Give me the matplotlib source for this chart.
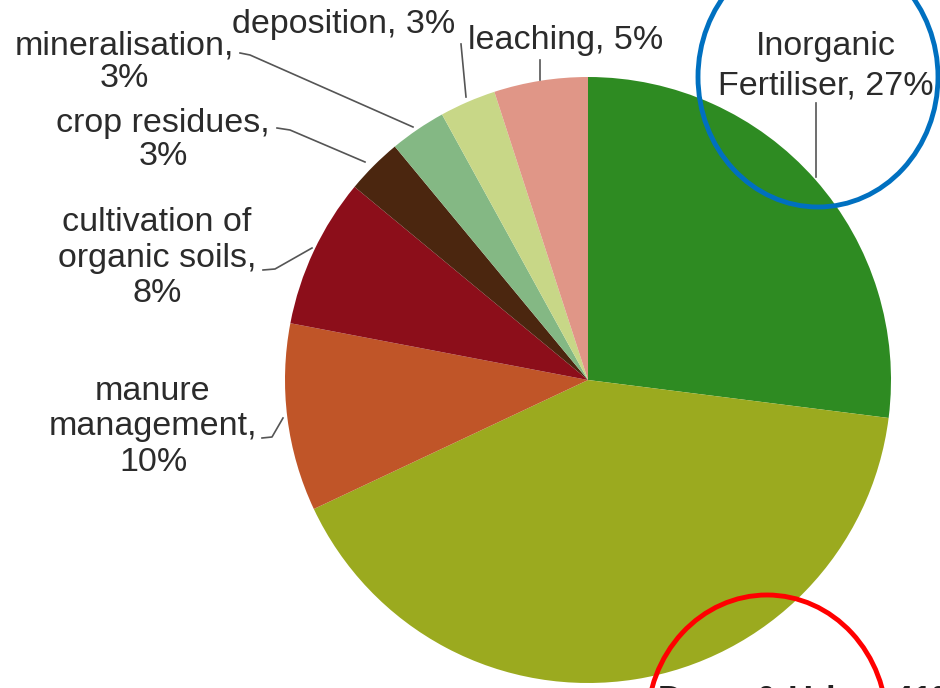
import matplotlib
matplotlib.use("Agg")
import matplotlib.pyplot as plt
from matplotlib.patches import Ellipse

labels = ["Inorganic\nFertiliser, 27%", "Dung & Urine, 41%", "manure\nmanagement,\n10%",
          "cultivation of\norganic soils,\n8%", "crop residues,\n3%", "mineralisation,\n3%",
          "deposition, 3%", "leaching, 5%"]
values = [27, 41, 10, 8, 3, 3, 3, 5]
colors = ["#2e8b22", "#9baa1f", "#c05528", "#8c0e1a", "#4b260f", "#84b884", "#c8d787", "#e09687"]

W, H = 940, 688
def Y(y):
    return H - y

fig = plt.figure(figsize=(9.4, 6.88), dpi=100)
ax = fig.add_axes([0, 0, 1, 1])

ax.pie(values, colors=colors, startangle=90, counterclock=False,
       center=(588, Y(380)), radius=303, wedgeprops=dict(linewidth=0),
       frame=True)
ax.set_xlim(0, W)
ax.set_ylim(0, H)
ax.set_aspect("equal")
ax.axis("off")

fam = ["Liberation Sans", "DejaVu Sans"]
font = dict(family=fam, fontsize=24.5, color="#2b2b2b", ha="center", va="center")

# label positions (pixel layout) and line spacing
pos = {
    0: (826, 66, 1.35),
    2: (153, 427, 1.2),
    3: (157, 258, 1.2),
    4: (163, 140, 1.12),
    5: (124, 62, 1.05),
    6: (344, 25, 1.0),
    7: (566, 40, 1.0),
}
for i, (x, y, ls) in pos.items():
    ax.text(x, Y(y), labels[i], linespacing=ls, **font)

# bottom label, cut off by the figure edge as in the reference
ax.text(658, Y(685), labels[1], family=fam, fontsize=24.5,
        color="#222222", ha="left", va="top", fontweight="bold")

leaders = [
    [(816, 103), (816, 177)],
    [(540, 60), (540, 80)],
    [(461, 44), (466, 97)],
    [(240, 53), (250, 55), (413, 127)],
    [(277, 128), (290, 130), (365, 162)],
    [(263, 270), (275, 269), (312, 248)],
    [(262, 438), (272, 437), (283, 418)],
]
for pts in leaders:
    ax.plot([p[0] for p in pts], [Y(p[1]) for p in pts], color="#555555", lw=1.2)

ax.add_patch(Ellipse((818, Y(77)), 240, 260, fill=False, edgecolor="#0070c0", lw=3.5))
ax.add_patch(Ellipse((767, Y(725)), 240, 260, fill=False, edgecolor="#ff0000", lw=3.5))

fig.savefig("out.png", dpi=100)
